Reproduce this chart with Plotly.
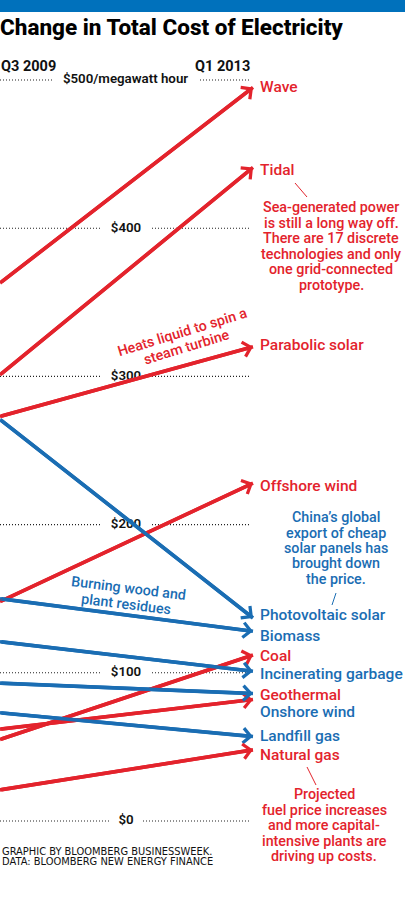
import plotly.graph_objects as go

# ---------------- data ----------------
sources = ["Wave", "Tidal", "Parabolic solar", "Offshore wind", "Photovoltaic solar",
           "Biomass", "Coal", "Incinerating garbage", "Geothermal", "Onshore wind",
           "Landfill gas", "Natural gas"]
cost_q3_2009 = [363, 301, 273, 148, 271, 150, 55, 121, 62, 93, 73, 21]
cost_q1_2013 = [495, 441, 320, 228, 137, 128, 112, 101, 82, 86, 57, 48]
direction = ["up", "up", "up", "up", "down", "down", "up", "down", "up", "down", "down", "up"]
tick_values = [0, 100, 200, 300, 400, 500]
tick_labels = ["$0", "$100", "$200", "$300", "$400", "$500/megawatt hour"]
periods = ["Q3 2009", "Q1 2013"]

# ---------------- style / layout ----------------
W, H = 405, 900
RED = "#e3232c"
BLUE = "#1a6db3"
BAR = "#0071bc"
COLORS = {"up": RED, "down": BLUE}
END_PX = 253.0          # pixel x of Q1 2013
Y0_PX = 821.0           # pixel y of $0
PX_PER_USD = 1.482      # pixel per $ of cost
FONT = "Roboto"

x_max = W / END_PX
y_top = Y0_PX / PX_PER_USD
y_bot = (Y0_PX - H) / PX_PER_USD


def px_x(p):
    return p / END_PX


def paper_x(p):
    return p / W


def paper_y(p):
    return 1 - p / H


# label nudges (pixels) so the right-hand labels don't collide
label_shift = {"Wave": 0, "Tidal": -3, "Parabolic solar": 2, "Offshore wind": -3,
               "Photovoltaic solar": 3, "Biomass": -5, "Coal": -1,
               "Incinerating garbage": -3, "Geothermal": 4, "Onshore wind": -18,
               "Landfill gas": 1, "Natural gas": -5}

# gaps in the dotted gridlines (pixel x where dots stop / restart)
grid_gap = {0: (110, 143), 100: (100, 152), 200: (100, 152), 300: (100, 152),
            400: (100, 152), 500: (52, 200)}

fig = go.Figure()

# dotted gridlines
shapes = []
for v in tick_values:
    a, b = grid_gap[v]
    for x0, x1 in ((0, a), (b, 251)):
        shapes.append(dict(type="line", xref="x", yref="y", x0=px_x(x0), x1=px_x(x1),
                           y0=v, y1=v, layer="below",
                           line=dict(color="#222222", width=1.1, dash="1px,2px")))
# top blue bar
shapes.append(dict(type="rect", xref="paper", yref="paper", x0=0, x1=1,
                   y0=paper_y(12), y1=1, line=dict(width=0), fillcolor=BAR))
# leader lines
for (xa, ya, xb, yb, c) in [(295, 183, 307, 197, RED), (336, 593, 332, 605, BLUE),
                            (307, 767, 316, 785, RED)]:
    shapes.append(dict(type="line", xref="paper", yref="paper",
                       x0=paper_x(xa), y0=paper_y(ya), x1=paper_x(xb), y1=paper_y(yb),
                       line=dict(color=c, width=1)))

# tick labels (drawn as a text trace so lines pass over them)
tick_x = [px_x(126) if v != 500 else px_x(125.5) for v in tick_values]
fig.add_trace(go.Scatter(x=tick_x, y=tick_values, mode="text", text=tick_labels,
                         textposition="middle center",
                         textfont=dict(family=FONT, size=13.3, color="#111111", weight=600),
                         hoverinfo="skip", showlegend=False))

annotations = []
for name, a, b, d in zip(sources, cost_q3_2009, cost_q1_2013, direction):
    c = COLORS[d]
    fig.add_trace(go.Scatter(x=[0, 1], y=[a, b], mode="lines",
                             line=dict(color=c, width=3.6), hoverinfo="skip",
                             showlegend=False))
    annotations.append(dict(x=1, y=b, ax=0, ay=a, xref="x", yref="y", axref="x", ayref="y",
                            text="", showarrow=True, arrowhead=4, arrowsize=0.8,
                            arrowwidth=3.6, arrowcolor=c))
    annotations.append(dict(x=1, y=b, xref="x", yref="y", text=name, showarrow=False,
                            xanchor="left", yanchor="middle", xshift=5,
                            yshift=label_shift[name],
                            font=dict(family=FONT, size=15.5, color=c, weight=500)))

# period headers
annotations.append(dict(x=0, y=paper_y(66), xref="paper", yref="paper", text=periods[0],
                        showarrow=False, xanchor="left", yanchor="middle", xshift=-1,
                        font=dict(family=FONT, size=14.5, color="#111111", weight=700)))
annotations.append(dict(x=paper_x(252), y=paper_y(66), xref="paper", yref="paper",
                        text=periods[1], showarrow=False, xanchor="right", yanchor="middle",
                        font=dict(family=FONT, size=14.5, color="#111111", weight=700)))

# title
annotations.append(dict(x=0, y=paper_y(27), xref="paper", yref="paper",
                        text="Change in Total Cost of Electricity", showarrow=False,
                        xanchor="left", yanchor="middle", xshift=-2,
                        font=dict(family=FONT, size=22.5, color="#000000", weight=800)))

# notes: (lines, centre x px, line-centre y px list, colour, angle)
notes = [
    (["Sea-generated power", "is still a long way off.", "There are 17 discrete",
      "technologies and only", "one grid-connected", "prototype."],
     [331] * 6, [207, 223, 238, 254, 269, 285], RED, 0),
    (["China’s global", "export of cheap", "solar panels has", "brought down", "the price."],
     [336] * 5, [517, 533, 548, 563, 579], BLUE, 0),
    (["Projected", "fuel price increases", "and more capital-", "intensive plants are",
      "driving up costs."],
     [324] * 5, [794, 810, 825, 841, 856], RED, 0),
    (["Heats liquid to spin a", "steam turbine"], [182, 186], [332, 347], RED, -17),
    (["Burning wood and", "plant residues"], [128, 126], [588, 604], BLUE, 7),
]
for lines, xs, ys, c, ang in notes:
    for txt, xp, yp in zip(lines, xs, ys):
        annotations.append(dict(x=paper_x(xp), y=paper_y(yp), xref="paper", yref="paper",
                                text=txt, showarrow=False, xanchor="center",
                                yanchor="middle", align="center", textangle=ang,
                                font=dict(family=FONT, size=14.3, color=c, weight=500)))

# source
for txt, yp in (("GRAPHIC BY BLOOMBERG BUSINESSWEEK.", 851),
                ("DATA: BLOOMBERG NEW ENERGY FINANCE", 861)):
    annotations.append(dict(x=0, y=paper_y(yp), xref="paper", yref="paper", text=txt,
                            showarrow=False, xanchor="left", yanchor="middle",
                            font=dict(family="DejaVu Sans", size=9.9, color="#111111")))

fig.update_layout(
    width=W, height=H, margin=dict(l=0, r=0, t=0, b=0),
    paper_bgcolor="white", plot_bgcolor="white",
    xaxis=dict(range=[0, x_max], visible=False, fixedrange=True),
    yaxis=dict(range=[y_bot, y_top], visible=False, fixedrange=True),
    shapes=shapes, annotations=annotations, showlegend=False,
)

fig.write_html("out.html", config={"displayModeBar": False},
               post_script="document.body.style.margin='0';")
